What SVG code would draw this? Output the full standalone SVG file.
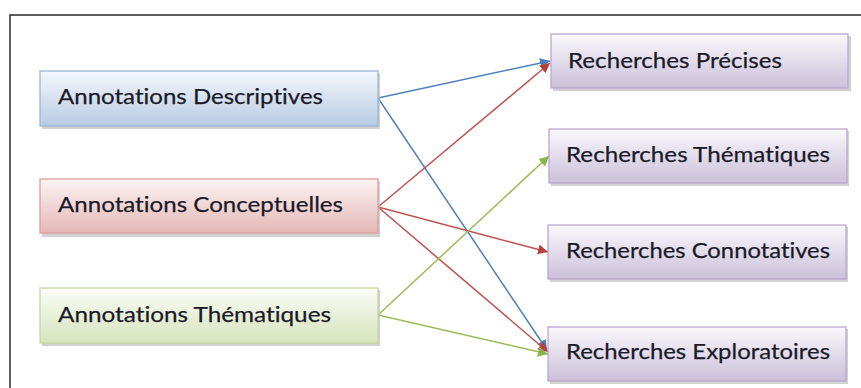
<svg xmlns="http://www.w3.org/2000/svg" width="861" height="388" viewBox="0 0 861 388">
<defs>
<linearGradient id="gB" x1="0" y1="0" x2="0" y2="1"><stop offset="0" stop-color="#f4f7fc"/><stop offset="1" stop-color="#b7cbe4"/></linearGradient>
<linearGradient id="gR" x1="0" y1="0" x2="0" y2="1"><stop offset="0" stop-color="#fcf4f4"/><stop offset="1" stop-color="#e5b7b6"/></linearGradient>
<linearGradient id="gG" x1="0" y1="0" x2="0" y2="1"><stop offset="0" stop-color="#fbfdf7"/><stop offset="1" stop-color="#d6e3bc"/></linearGradient>
<linearGradient id="gP" x1="0" y1="0" x2="0" y2="1"><stop offset="0" stop-color="#faf8fc"/><stop offset="1" stop-color="#cbc0da"/></linearGradient>
<marker id="aB" viewBox="0 0 10 10" refX="10" refY="5" markerWidth="10" markerHeight="10" markerUnits="userSpaceOnUse" orient="auto"><path d="M0,0 L10,5 L0,10 Z" fill="#4a7ebb"/></marker>
<marker id="aR" viewBox="0 0 10 10" refX="10" refY="5" markerWidth="10" markerHeight="10" markerUnits="userSpaceOnUse" orient="auto"><path d="M0,0 L10,5 L0,10 Z" fill="#b5413e"/></marker>
<marker id="aG" viewBox="0 0 10 10" refX="10" refY="5" markerWidth="10" markerHeight="10" markerUnits="userSpaceOnUse" orient="auto"><path d="M0,0 L10,5 L0,10 Z" fill="#8cb24a"/></marker>
</defs>
<style>
.sh{fill:#bdbdbd;opacity:0.7}
.box{stroke-width:1.3}
.t{font-family:Lato,"Liberation Sans",sans-serif;font-size:22px;fill:#1a1a28;font-variant-ligatures:none;stroke:#1a1a28;stroke-width:0.25}
.c{fill:none;stroke-width:1.5}
</style>
<rect width="861" height="388" fill="#ffffff"/>
<rect x="10" y="15" width="880" height="400" fill="none" stroke="#2a2a2a" stroke-width="1.5"/>

<g id="connectors">
<line class="c" stroke="#4f81bd" x1="378" y1="98" x2="550" y2="61" marker-end="url(#aB)"/>
<line class="c" stroke="#4f81bd" x1="378" y1="98" x2="547" y2="350" marker-end="url(#aB)"/>
<line class="c" stroke="#c0504d" x1="378" y1="207" x2="550" y2="63" marker-end="url(#aR)"/>
<line class="c" stroke="#c0504d" x1="378" y1="207" x2="548" y2="252" marker-end="url(#aR)"/>
<line class="c" stroke="#c0504d" x1="378" y1="207" x2="548" y2="352" marker-end="url(#aR)"/>
<line class="c" stroke="#9bbb59" x1="378" y1="315" x2="549" y2="156" marker-end="url(#aG)"/>
<line class="c" stroke="#9bbb59" x1="378" y1="315" x2="548" y2="354" marker-end="url(#aG)"/>
</g>

<g id="annotations-descriptives">
<rect class="sh" x="42" y="73" width="338" height="56"/>
<rect class="box" x="40" y="71" width="338" height="55" fill="url(#gB)" stroke="#9ab6d8"/>
<text class="t" x="58" y="104" textLength="265" lengthAdjust="spacingAndGlyphs">Annotations Descriptives</text>
</g>
<g id="annotations-conceptuelles">
<rect class="sh" x="42" y="181" width="338" height="56"/>
<rect class="box" x="40" y="179" width="338" height="54" fill="url(#gR)" stroke="#dc9d9b"/>
<text class="t" x="58" y="212" textLength="285" lengthAdjust="spacingAndGlyphs">Annotations Conceptuelles</text>
</g>
<g id="annotations-thematiques">
<rect class="sh" x="42" y="290" width="338" height="56"/>
<rect class="box" x="40" y="288" width="338" height="55" fill="url(#gG)" stroke="#c5d8a0"/>
<text class="t" x="58" y="322" textLength="273" lengthAdjust="spacingAndGlyphs">Annotations Thématiques</text>
</g>

<g id="recherches-precises">
<rect class="sh" x="553" y="36" width="298" height="55"/>
<rect class="box" x="551" y="34" width="297" height="54" fill="url(#gP)" stroke="#b9a8cc"/>
<text class="t" x="568" y="68" textLength="214" lengthAdjust="spacingAndGlyphs">Recherches Précises</text>
</g>
<g id="recherches-thematiques">
<rect class="sh" x="551" y="131" width="298" height="55"/>
<rect class="box" x="549" y="129" width="298" height="54" fill="url(#gP)" stroke="#b9a8cc"/>
<text class="t" x="566" y="162" textLength="264" lengthAdjust="spacingAndGlyphs">Recherches Thématiques</text>
</g>
<g id="recherches-connotatives">
<rect class="sh" x="550" y="227" width="298" height="55"/>
<rect class="box" x="548" y="225" width="298" height="54" fill="url(#gP)" stroke="#b9a8cc"/>
<text class="t" x="566" y="258" textLength="264" lengthAdjust="spacingAndGlyphs">Recherches Connotatives</text>
</g>
<g id="recherches-exploratoires">
<rect class="sh" x="550" y="329" width="298" height="55"/>
<rect class="box" x="548" y="327" width="298" height="54" fill="url(#gP)" stroke="#b9a8cc"/>
<text class="t" x="566" y="359" textLength="264" lengthAdjust="spacingAndGlyphs">Recherches Exploratoires</text>
</g>
</svg>
